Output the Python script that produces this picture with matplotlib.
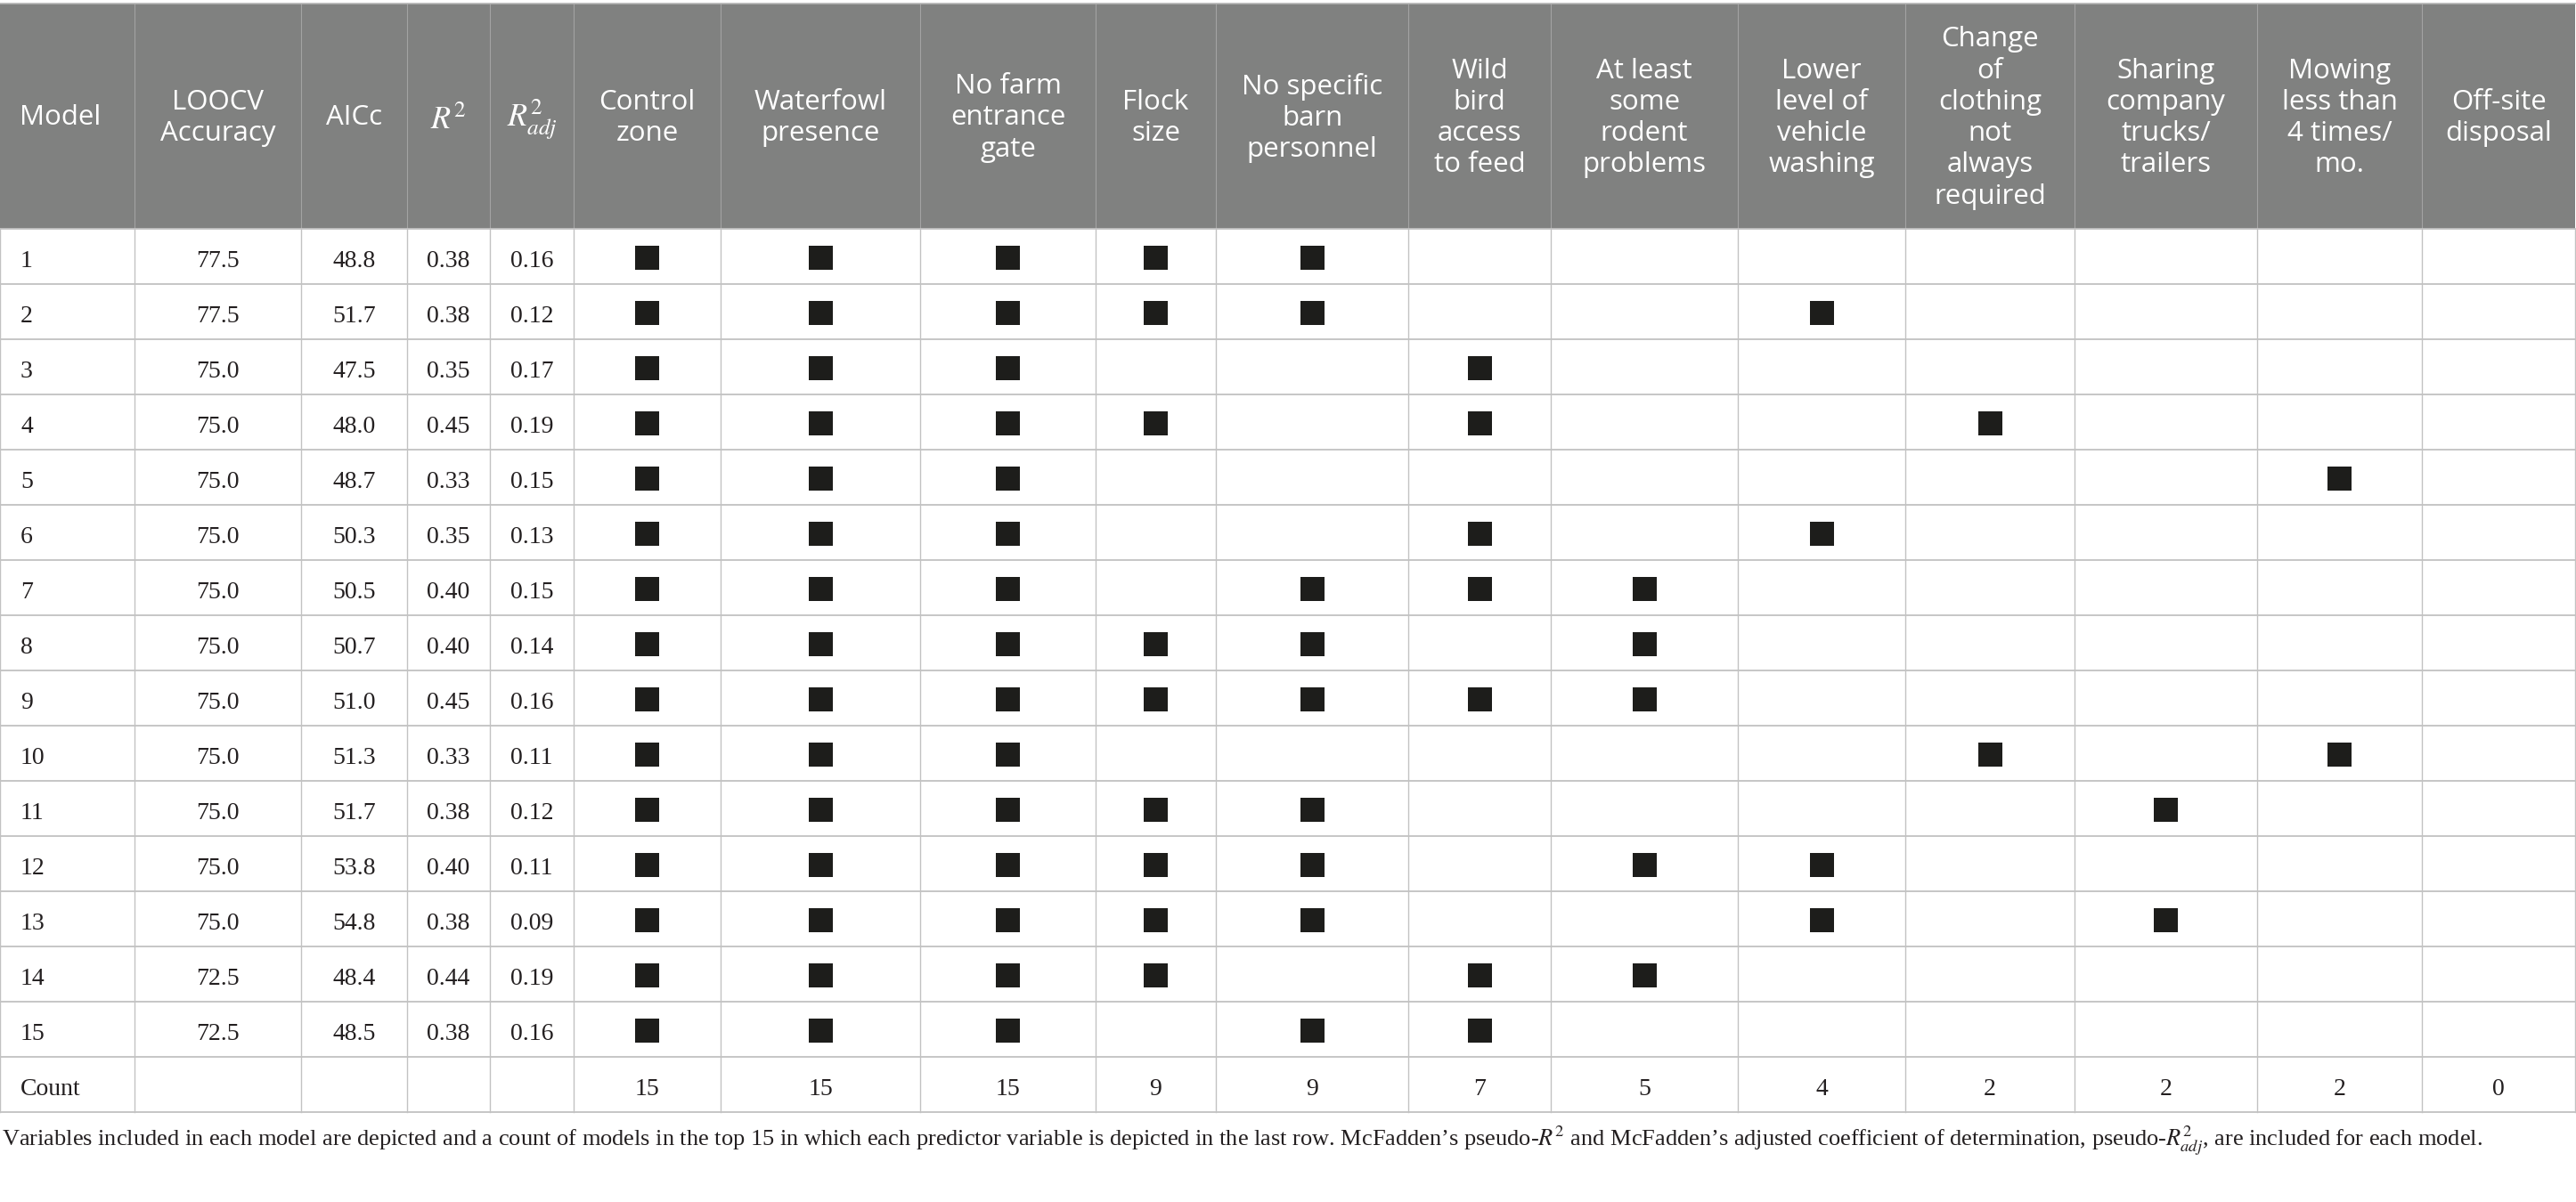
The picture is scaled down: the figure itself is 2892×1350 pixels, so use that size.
import numpy as np
import matplotlib
matplotlib.use('Agg')
import matplotlib.pyplot as plt
from matplotlib.patches import Rectangle

plt.rcParams['mathtext.fontset'] = 'stix'

header_labels = ['Model', 'LOOCV\nAccuracy', 'AICc', '$R^2$', '$R^2_{adj}$',
                 'Control\nzone', 'Waterfowl\npresence', 'No farm\nentrance\ngate',
                 'Flock\nsize', 'No specific\nbarn\npersonnel', 'Wild\nbird\naccess\nto feed',
                 'At least\nsome\nrodent\nproblems', 'Lower\nlevel of\nvehicle\nwashing',
                 'Change\nof\nclothing\nnot\nalways\nrequired', 'Sharing\ncompany\ntrucks/\ntrailers',
                 'Mowing\nless than\n4 times/\nmo.', 'Off-site\ndisposal']

models = [str(i) for i in range(1, 16)]
loocv = ['77.5', '77.5', '75.0', '75.0', '75.0', '75.0', '75.0', '75.0',
         '75.0', '75.0', '75.0', '75.0', '75.0', '72.5', '72.5']
aicc = ['48.8', '51.7', '47.5', '48.0', '48.7', '50.3', '50.5', '50.7',
        '51.0', '51.3', '51.7', '53.8', '54.8', '48.4', '48.5']
r2 = ['0.38', '0.38', '0.35', '0.45', '0.33', '0.35', '0.40', '0.40',
      '0.45', '0.33', '0.38', '0.40', '0.38', '0.44', '0.38']
r2_adj = ['0.16', '0.12', '0.17', '0.19', '0.15', '0.13', '0.15', '0.14',
          '0.16', '0.11', '0.12', '0.11', '0.09', '0.19', '0.16']

# predictor order follows the header columns 6..17
included = [
    [1, 1, 1, 1, 1, 0, 0, 0, 0, 0, 0, 0],
    [1, 1, 1, 1, 1, 0, 0, 1, 0, 0, 0, 0],
    [1, 1, 1, 0, 0, 1, 0, 0, 0, 0, 0, 0],
    [1, 1, 1, 1, 0, 1, 0, 0, 1, 0, 0, 0],
    [1, 1, 1, 0, 0, 0, 0, 0, 0, 0, 1, 0],
    [1, 1, 1, 0, 0, 1, 0, 1, 0, 0, 0, 0],
    [1, 1, 1, 0, 1, 1, 1, 0, 0, 0, 0, 0],
    [1, 1, 1, 1, 1, 0, 1, 0, 0, 0, 0, 0],
    [1, 1, 1, 1, 1, 1, 1, 0, 0, 0, 0, 0],
    [1, 1, 1, 0, 0, 0, 0, 0, 1, 0, 1, 0],
    [1, 1, 1, 1, 1, 0, 0, 0, 0, 1, 0, 0],
    [1, 1, 1, 1, 1, 0, 1, 1, 0, 0, 0, 0],
    [1, 1, 1, 1, 1, 0, 0, 1, 0, 1, 0, 0],
    [1, 1, 1, 1, 0, 1, 1, 0, 0, 0, 0, 0],
    [1, 1, 1, 0, 1, 1, 0, 0, 0, 0, 0, 0],
]
counts = ['15', '15', '15', '9', '9', '7', '5', '4', '2', '2', '2', '0']

caption = ("Variables included in each model are depicted and a count of models in the top 15 in which "
           "each predictor variable is depicted in the last row. McFadden\u2019s pseudo-$R^2$ and "
           "McFadden\u2019s adjusted coefficient of determination, pseudo-$R^2_{adj}$, are included for each model.")

# ---- layout (pixels) ----
W, H = 2892, 1350
col_edges = [0, 151, 338, 457, 550, 644, 809, 1033, 1230, 1365, 1581,
             1741, 1951, 2139, 2329, 2534, 2719, 2891]
head_top, head_bot = 4, 257
row_h = 62
n_rows = len(models) + 1
table_bot = head_bot + row_h * n_rows

head_bg = '#808180'
grid_c = '#c2c2c2'
text_c = '#231f20'
box_c = '#1d1d1b'
sans = 'Open Sans'
serif = 'Liberation Serif'

fig = plt.figure(figsize=(W / 100, H / 100), dpi=100)
ax = fig.add_axes([0, 0, 1, 1])
ax.set_xlim(0, W)
ax.set_ylim(H, 0)
ax.axis('off')

# header block
ax.add_patch(Rectangle((0, head_top), col_edges[-1], head_bot - head_top,
                       facecolor=head_bg, edgecolor='none', zorder=1))
ax.plot([0, col_edges[-1]], [head_top, head_top], color='#b5b5b5', lw=1.2, zorder=3)
for x in col_edges[1:-1]:
    ax.plot([x, x], [head_top, head_bot], color='#a3a3a3', lw=0.8, zorder=2)

centers = [(a + b) / 2 for a, b in zip(col_edges[:-1], col_edges[1:])]
for i, lab in enumerate(header_labels):
    if i == 0:
        x, ha = 22, 'left'
    else:
        x, ha = centers[i], 'center'
    if lab.startswith('$'):
        ax.text(x, (head_top + head_bot) / 2 + 4, lab, color='white', fontsize=26,
                ha=ha, va='center', zorder=4)
    else:
        ax.text(x, (head_top + head_bot) / 2 + 2, lab, color='white', fontsize=22.5,
                family=sans, ha=ha, va='center', ma='center', linespacing=1.23, zorder=4)

# body grid
for r in range(n_rows + 1):
    y = head_bot + r * row_h
    ax.plot([0, col_edges[-1]], [y, y], color=grid_c, lw=1.3, zorder=2)
for x in col_edges:
    ax.plot([x, x], [head_bot, table_bot], color=grid_c, lw=1.0, zorder=2)

# body rows
num_cols = [loocv, aicc, r2, r2_adj]
box = 27
for r in range(len(models)):
    top = head_bot + r * row_h
    base = top + 43
    ax.text(23, base, models[r], fontsize=20, family=serif, color=text_c,
            ha='left', va='baseline', zorder=4)
    for j, col in enumerate(num_cols):
        ax.text(centers[j + 1], base, col[r], fontsize=20, family=serif,
                color=text_c, ha='center', va='baseline', zorder=4)
    for k, flag in enumerate(included[r]):
        if flag:
            cx = centers[k + 5]
            cy = top + row_h / 2 + 1
            ax.add_patch(Rectangle((cx - box / 2, cy - box / 2), box, box,
                                   facecolor=box_c, edgecolor='none', zorder=3))

# count row
top = head_bot + len(models) * row_h
ax.text(23, top + 43, 'Count', fontsize=20, family=serif, color=text_c,
        ha='left', va='baseline', zorder=4)
for k, c in enumerate(counts):
    ax.text(centers[k + 5], top + 43, c, fontsize=20, family=serif, color=text_c,
            ha='center', va='baseline', zorder=4)

# caption, scaled to span the table width
cap = ax.text(2, 1287, caption, fontsize=18, family=serif, color=text_c,
              ha='left', va='baseline', zorder=4)
fig.canvas.draw()
ext = cap.get_window_extent()
cap.set_fontsize(18 * 2785 / ext.width)

fig.savefig('out.png', dpi=100)
